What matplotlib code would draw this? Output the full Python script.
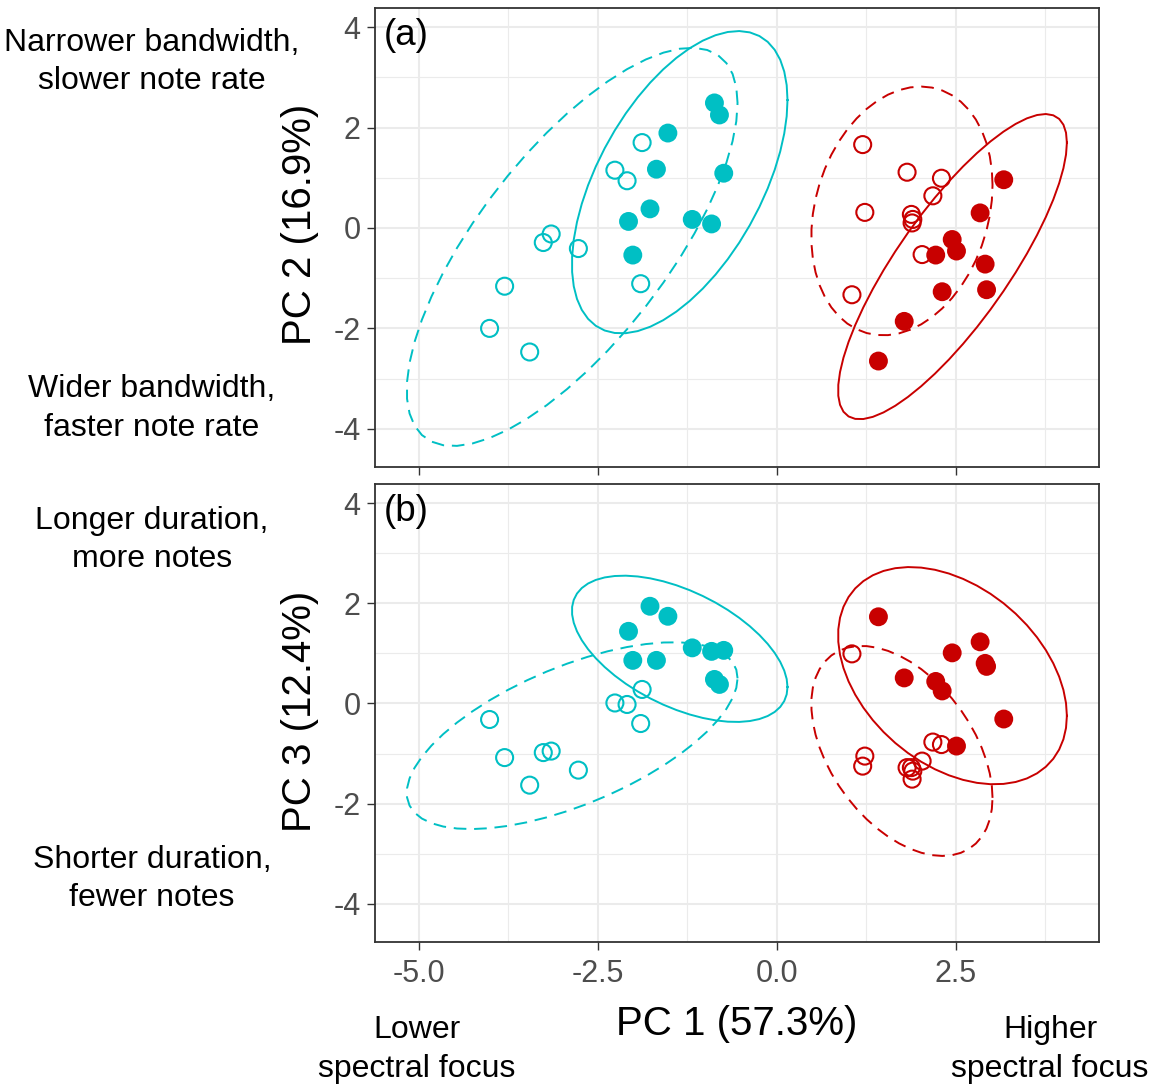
import matplotlib
matplotlib.use('Agg')
import numpy as np
import matplotlib.pyplot as plt

plt.rcParams['font.family'] = ['Liberation Sans', 'DejaVu Sans']
plt.rcParams['axes.unicode_minus'] = False

CYAN = '#00BFC4'
RED = '#C80000'

# PC1 values (shared by both panels)
pc1_cyan_filled = [-0.87, -0.80, -1.52, -1.68, -0.74, -1.77, -2.07, -1.18, -0.91, -2.01]
pc1_cyan_open = [-1.88, -2.26, -2.09, -3.15, -3.26, -2.77, -1.90, -3.80, -4.01, -3.45]
pc1_red_filled = [3.17, 2.84, 2.45, 2.51, 2.22, 2.91, 2.31, 2.93, 1.78, 1.42]
pc1_red_open = [1.20, 1.82, 2.30, 2.18, 1.23, 1.88, 1.90, 1.89, 2.03, 1.05]

# PC2 values (panel a)
pc2_cyan_filled = [2.49, 2.25, 1.89, 1.17, 1.09, 0.38, 0.13, 0.17, 0.08, -0.54]
pc2_cyan_open = [1.70, 1.15, 0.94, -0.12, -0.29, -0.41, -1.11, -1.16, -2.00, -2.47]
pc2_red_filled = [0.96, 0.30, -0.23, -0.46, -0.54, -0.72, -1.27, -1.23, -1.86, -2.65]
pc2_red_open = [1.66, 1.11, 0.99, 0.64, 0.31, 0.27, 0.17, 0.10, -0.53, -1.33]

# PC3 values (panel b)
pc3_cyan_filled = [0.48, 0.38, 1.74, 0.86, 1.06, 1.94, 1.44, 1.11, 1.04, 0.86]
pc3_cyan_open = [0.28, 0.01, -0.02, -0.95, -0.98, -1.33, -0.40, -1.08, -0.32, -1.63]
pc3_red_filled = [-0.31, 1.23, 1.01, -0.85, 0.44, 0.80, 0.25, 0.74, 0.51, 1.73]
pc3_red_open = [-1.25, -1.28, -0.82, -0.77, -1.05, -1.28, -1.35, -1.51, -1.15, 0.99]

x_ticks = [-5.0, -2.5, 0.0, 2.5]
y_ticks = [-4, -2, 0, 2, 4]


def ellipse_pts(xs, ys, level=0.95, segments=51):
    # normal-theory confidence ellipse (like stat_ellipse(type = "norm"))
    data = np.column_stack([xs, ys])
    center = data.mean(axis=0)
    shape = np.cov(data, rowvar=False)
    dfd = len(xs) - 1
    fq = dfd / 2 * ((1 - level) ** (-2 / dfd) - 1)  # F(2, dfd) quantile
    radius = np.sqrt(2 * fq)
    ang = np.linspace(0, 2 * np.pi, segments + 1)
    circ = np.column_stack([np.cos(ang), np.sin(ang)])
    chol = np.linalg.cholesky(shape).T
    e = center + radius * circ @ chol
    return e[:, 0], e[:, 1]


fig = plt.figure(figsize=(11.55, 10.87), dpi=100)
ax_a = fig.add_axes([375 / 1155, 1 - 467 / 1087, 724 / 1155, 459 / 1087])
ax_b = fig.add_axes([375 / 1155, 1 - 942 / 1087, 724 / 1155, 458 / 1087])

panels = [
    (ax_a, [pc2_cyan_filled, pc2_cyan_open, pc2_red_filled, pc2_red_open], '(a)', 'PC 2 (16.9%)', 0.529),
    (ax_b, [pc3_cyan_filled, pc3_cyan_open, pc3_red_filled, pc3_red_open], '(b)', 'PC 3 (12.4%)', 0.504),
]
xs_all = [pc1_cyan_filled, pc1_cyan_open, pc1_red_filled, pc1_red_open]
cols = [CYAN, CYAN, RED, RED]
filled = [True, False, True, False]

for ax, ys_all, tag, ylab, ly in panels:
    ax.set_xlim(-5.61, 4.50)
    ax.set_ylim(-4.76, 4.38)
    ax.set_xticks([-3.75, -1.25, 1.25, 3.75], minor=True)
    ax.set_yticks([-3, -1, 1, 3], minor=True)
    ax.set_xticks(x_ticks)
    ax.set_yticks(y_ticks)
    ax.grid(True, which='major', color='#EBEBEB', lw=1.5, zorder=0)
    ax.grid(True, which='minor', color='#EBEBEB', lw=0.8, zorder=0)
    ax.tick_params(which='minor', length=0)
    ax.tick_params(which='major', length=5.5, width=1, color='#333333',
                   labelsize=22, labelcolor='#4D4D4D')
    ax.tick_params(axis='x', pad=7)
    ax.tick_params(axis='y', pad=5)
    for s in ax.spines.values():
        s.set_color('#333333')
        s.set_linewidth(1.3)
    ax.set_axisbelow(True)
    for xs, ys, c, f in zip(xs_all, ys_all, cols, filled):
        ex, ey = ellipse_pts(np.array(xs), np.array(ys))
        ax.plot(ex, ey, color=c, lw=1.4, ls='-' if f else (0, (6.5, 4)), zorder=2)
        if f:
            ax.scatter(xs, ys, s=185, color=c, edgecolors='none', zorder=3)
        else:
            ax.scatter(xs, ys, s=150, facecolors='none', edgecolors=c, linewidths=1.5, zorder=3)
    ax.text(0.012, 0.978, tag, transform=ax.transAxes, ha='left', va='top', fontsize=26.5)
    ax.set_ylabel(ylab, fontsize=29)
    ax.yaxis.set_label_coords(-0.077, ly)

ax_a.tick_params(labelbottom=False)
ax_b.set_xlabel('PC 1 (57.3%)', fontsize=29)
ax_b.xaxis.set_label_coords(0.5, -0.137)
ax_b.set_xticklabels(['-5.0', '-2.5', '0.0', '2.5'])

side_notes = [
    (62, 'Narrower bandwidth,\nslower note rate'),
    (408.5, 'Wider bandwidth,\nfaster note rate'),
    (540, 'Longer duration,\nmore notes'),
    (879, 'Shorter duration,\nfewer notes'),
]
for py, txt in side_notes:
    fig.text(152 / 1155, 1 - py / 1087, txt, ha='center', va='center',
             fontsize=23, linespacing=1.39)

fig.text(417 / 1155, 1 - 1049.5 / 1087, 'Lower\nspectral focus', ha='center', va='center',
         fontsize=23, linespacing=1.39)
fig.text(1050 / 1155, 1 - 1049.5 / 1087, 'Higher\nspectral focus', ha='center', va='center',
         fontsize=23, linespacing=1.39)

fig.savefig('out.png', dpi=100)
